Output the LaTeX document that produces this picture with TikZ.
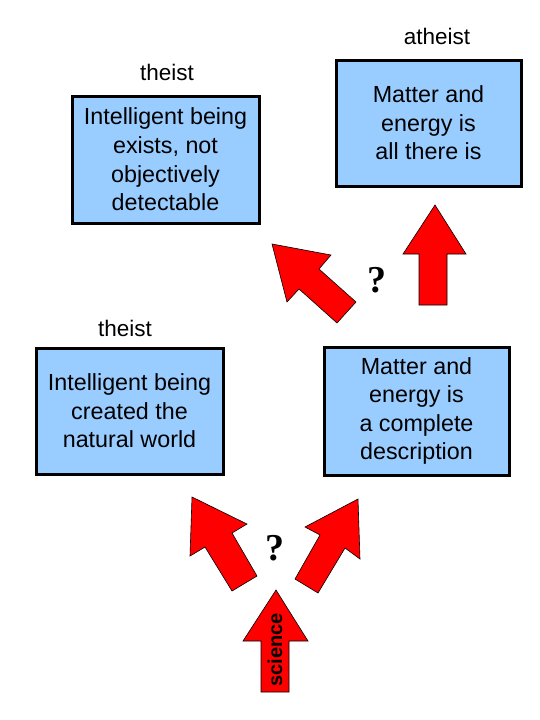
\documentclass[tikz,border=0pt]{standalone}
\usepackage{fontspec}
\setmainfont{Liberation Sans}
\newfontfamily\qfont{Liberation Serif}
\definecolor{boxblue}{HTML}{99CCFF}
\definecolor{arrowred}{HTML}{FF0000}
\begin{document}
\begin{tikzpicture}[x=1pt,y=-1pt,
  box/.style={draw=black,line width=3pt,fill=boxblue,inner sep=0pt,align=center,
    font=\fontsize{23.3}{28.6}\selectfont},
  lbl/.style={font=\fontsize{22.5}{25}\selectfont,inner sep=0pt},
  blockarrow/.style={fill=arrowred,draw=black,line width=0.6pt,line join=miter},
  qmark/.style={font=\qfont\bfseries\fontsize{38}{40}\selectfont,inner sep=0pt}]
\useasboundingbox (0,0) rectangle (540,720);
\fill[white] (0,0) rectangle (540,720);
% boxes
\node[box,minimum width=187pt,minimum height=127pt] (tl) at (165.5,159.5) {\raisebox{2pt}{\parbox{180pt}{\centering Intelligent being\\exists, not\\objectively\\detectable}}};
\node[box,minimum width=185pt,minimum height=126pt] (tr) at (428.5,123) {\raisebox{3pt}{\parbox{180pt}{\centering Matter and\\energy is\\all there is}}};
\node[box,minimum width=187pt,minimum height=126pt] (ml) at (129.5,411) {\raisebox{3pt}{\parbox{180pt}{\centering Intelligent being\\created the\\natural world}}};
\node[box,minimum width=185pt,minimum height=128pt] (mr) at (416.5,411) {\raisebox{1pt}{\parbox{180pt}{\centering Matter and\\energy is\\a complete\\description}}};
% labels
\node[lbl] (ltl) at (167,72) {theist};
\node[lbl] (ltr) at (437,36) {atheist};
\node[lbl] (lml) at (125,328) {theist};
% upper arrows
\draw[blockarrow] (272,244) -- (331,255) -- (319,269) -- (356,302) -- (337,323) -- (299,289) -- (287,302) -- cycle;
\draw[blockarrow] (435,205) -- (466,254) -- (447,254) -- (447,305) -- (419,305) -- (419,254) -- (403,254) -- cycle;
\node[qmark] (q1) at (377,280) {?};
% lower arrows
\draw[blockarrow] (192,497) -- (247,524) -- (232,533) -- (257,576) -- (232,591) -- (205,547) -- (190,556) -- cycle;
\draw[blockarrow] (358,499) -- (360,559) -- (345,548) -- (318,593) -- (295,579) -- (320,535) -- (305,527) -- cycle;
\node[qmark] (q2) at (275,548) {?};
\draw[blockarrow] (276,590) -- (308,641) -- (289,641) -- (289,692) -- (261,692) -- (261,641) -- (243,641) -- cycle;
\node[rotate=90,font=\bfseries\fontsize{20}{22}\selectfont,inner sep=0pt] (sci) at (275,650) {science};
\end{tikzpicture}
\end{document}
